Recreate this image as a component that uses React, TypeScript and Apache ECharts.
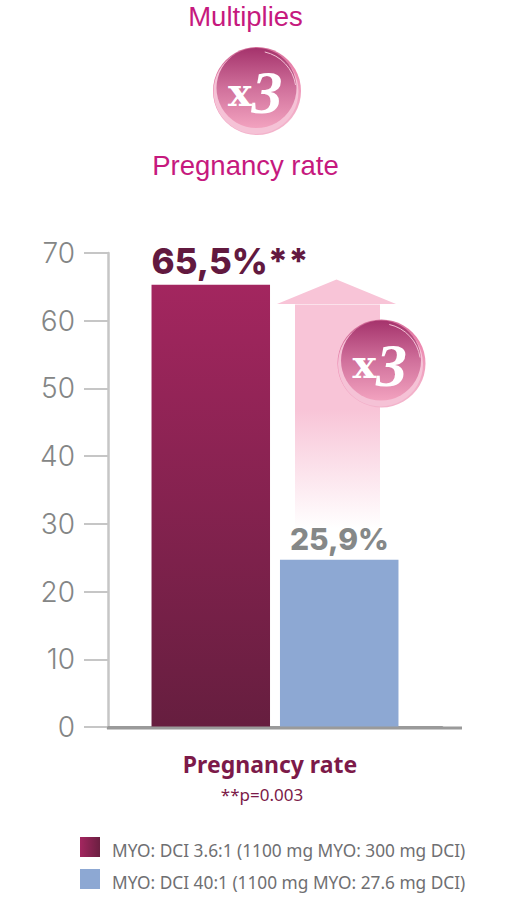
import React, { useEffect, useRef } from "react";
import * as echarts from "echarts";

const categories = ["Pregnancy rate"];
const seriesNames = [
  "MYO: DCI 3.6:1 (1100 mg MYO: 300 mg DCI)",
  "MYO: DCI 40:1 (1100 mg MYO: 27.6 mg DCI)",
];
const myoHighValues = [65.3];
const myoLowValues = [24.7];
const valueLabels = ["65,5%**", "25,9%"];
const yTicks = { min: 0, max: 70, interval: 10 };

const linear = (x2: number, y2: number, stops: [number, string][]) => ({
  type: "linear",
  x: 0,
  y: 0,
  x2,
  y2,
  colorStops: stops.map(([offset, color]) => ({ offset, color })),
});

function badge(cx: number, cy: number) {
  const z = 20;
  return {
    type: "group",
    children: [
      {
        type: "circle",
        z,
        shape: { cx, cy, r: 44 },
        style: { fill: linear(0.3, 1, [[0, "#c8628f"], [0.5, "#ec86ae"], [1, "#f3b3cb"]]) },
      },
      {
        type: "circle",
        z,
        shape: { cx: cx - 1, cy: cy + 0.5, r: 42.5 },
        style: { fill: "#f5c2d6" },
      },
      {
        type: "circle",
        z,
        shape: { cx: cx - 0.5, cy: cy - 3, r: 40 },
        style: { fill: linear(0, 1, [[0, "#a5336c"], [0.5, "#d0709b"], [1, "#f2a2bf"]]) },
      },
      {
        type: "arc",
        z,
        shape: { cx: cx - 1, cy, r: 40, startAngle: -1.35, endAngle: -0.15 },
        style: { stroke: "#f3c3d6", lineWidth: 1, fill: "none" },
      },
      {
        type: "text",
        z: z + 1,
        x: cx - 17,
        y: cy + 0,
        style: {
          text: "x",
          align: "center",
          verticalAlign: "middle",
          fontFamily: "DejaVu Serif",
          fontWeight: "bold",
          fontSize: 40,
          fill: "#ffffff",
        },
      },
      {
        type: "text",
        z: z + 1,
        x: cx + 10,
        y: cy + 1,
        style: {
          text: "3",
          align: "center",
          verticalAlign: "middle",
          fontFamily: "Liberation Serif",
          fontStyle: "italic",
          fontWeight: "bold",
          fontSize: 62,
          fill: "#ffffff",
        },
      },
    ],
  };
}

export default function App() {
  const ref = useRef<HTMLDivElement>(null);
  useEffect(() => {
    const chart = echarts.init(ref.current!, undefined, { renderer: "svg" });
    const sans = "'Noto Sans'";
    const heading = "'Liberation Sans'";
    chart.setOption({
      animation: false,
      backgroundColor: "#ffffff",
      title: [
        { text: "Multiplies", padding: 0, left: 245.5, top: 2, textAlign: "center", textStyle: { fontFamily: heading, fontWeight: "normal", fontSize: 27.5, color: "#c6197e" } },
        { text: "Pregnancy rate", padding: 0, left: 245.5, top: 151, textAlign: "center", textStyle: { fontFamily: heading, fontWeight: "normal", fontSize: 27.5, color: "#c6197e" } },
        { text: "Pregnancy rate", padding: 0, left: 270, top: 752, textAlign: "center", textStyle: { fontFamily: sans, fontWeight: "bold", fontSize: 23, color: "#7c1a49" } },
        { text: "**p=0.003", padding: 0, left: 262, top: 786, textAlign: "center", textStyle: { fontFamily: sans, fontWeight: "normal", fontSize: 17, color: "#7c1a49" } },
      ],
      legend: {
        show: true,
        orient: "vertical",
        left: 75,
        top: 832,
        itemWidth: 20,
        itemHeight: 20,
        itemGap: 10.5,
        icon: "rect",
        data: [
          { name: seriesNames[0], itemStyle: { color: linear(1, 0, [[0, "#a3265f"], [1, "#6b1f41"]]) } },
          { name: seriesNames[1], itemStyle: { color: "#8da8d3" } },
        ],
        formatter: "{a|{name}}",
        textStyle: {
          rich: {
            a: { fontFamily: sans, fontSize: 17.3, color: "#6f6f72", padding: [6, 0, 0, 7] },
          },
        },
      },
      grid: { left: 108, right: 64, top: 253, height: 474, containLabel: false },
      xAxis: {
        type: "category",
        data: categories,
        axisLine: { lineStyle: { color: "#9a9a9a", width: 3 } },
        axisTick: { show: false },
        axisLabel: { show: false },
      },
      yAxis: {
        type: "value",
        min: yTicks.min,
        max: yTicks.max,
        interval: yTicks.interval,
        splitLine: { show: false },
        axisLine: { show: true, lineStyle: { color: "#c6c6c6", width: 2.5 } },
        axisTick: { show: true, length: 24, lineStyle: { color: "#c6c6c6", width: 2 } },
        axisLabel: { margin: 33, fontFamily: "Inter", fontWeight: 300, fontSize: 28, color: "#848686" },
      },
      series: [
        {
          type: "bar",
          name: seriesNames[0],
          data: myoHighValues,
          barWidth: 118.5,
          barGap: "8.4%",
          z: 5,
          itemStyle: { color: linear(0, 1, [[0, "#a3265f"], [1, "#661e3f"]]) },
          label: {
            show: true,
            position: [0, -41],
            align: "left",
            formatter: () => valueLabels[0],
            fontFamily: "Inter",
            fontWeight: 800,
            fontSize: 35,
            color: "#62193f",
          },
        },
        {
          type: "bar",
          name: seriesNames[1],
          data: myoLowValues,
          barWidth: 118.5,
          z: 5,
          itemStyle: { color: "#8da8d3" },
          label: {
            show: true,
            position: [10, -36],
            align: "left",
            formatter: () => valueLabels[1],
            fontFamily: "Inter",
            fontWeight: 800,
            fontSize: 30,
            color: "#858888",
          },
        },
      ],
      graphic: [
        { type: "line", z: 6, shape: { x1: 107, y1: 728, x2: 462, y2: 728 }, style: { stroke: "#9a9a9a", lineWidth: 3 } },
        { type: "polygon", z: 3, shape: { points: [[277, 304], [336.5, 279.5], [396, 304]] }, style: { fill: "#f8c4d7" } },
        {
          type: "rect",
          z: 3,
          shape: { x: 295, y: 304.5, width: 85, height: 224 },
          style: { fill: linear(0, 1, [[0, "#f8c4d7"], [0.47, "#f8c4d7"], [1, "#ffffff"]]) },
        },
        badge(257, 91),
        badge(381.5, 363.5),
      ],
    });
    return () => chart.dispose();
  }, []);
  return (
    <div
      ref={ref}
      style={{ position: "absolute", left: 0, top: 0, width: 506, height: 913 }}
    />
  );
}
